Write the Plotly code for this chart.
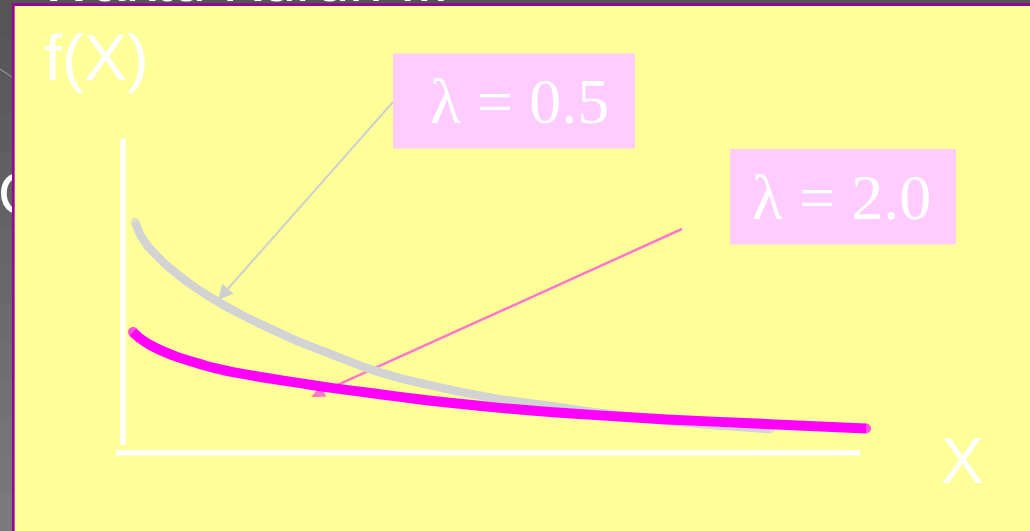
import plotly.graph_objects as go

# ---------------- data ----------------
X_LAMBDA_05 = [0.162, 0.229, 0.323, 0.431, 0.565, 0.727, 0.902, 1.104, 1.306, 1.575, 1.938, 2.382,
               2.826, 3.284, 3.728, 4.172, 4.630, 5.074, 5.747, 6.420, 7.093, 7.766, 8.708]
F_LAMBDA_05 = [0.735, 0.696, 0.661, 0.633, 0.601, 0.569, 0.537, 0.505, 0.476, 0.441, 0.399, 0.351,
               0.310, 0.268, 0.236, 0.211, 0.188, 0.169, 0.147, 0.125, 0.105, 0.089, 0.073]

X_LAMBDA_20 = [0.135, 0.229, 0.363, 0.525, 0.727, 0.969, 1.238, 1.575, 1.978, 2.382, 2.826,
               3.284, 3.728, 4.172, 4.630, 5.074, 5.747, 6.420, 7.322, 8.708, 10.0]
F_LAMBDA_20 = [0.383, 0.363, 0.342, 0.323, 0.304, 0.286, 0.268, 0.251, 0.235, 0.220, 0.204,
               0.190, 0.176, 0.163, 0.152, 0.141, 0.128, 0.117, 0.104, 0.089, 0.075]

LABELS = ["\u03bb = 0.5", "\u03bb = 2.0"]
Y_TITLE = "f(X)"
X_TITLE = "X"

# ---------------- layout helpers ----------------
W, H = 1030, 531
X_PX0, X_PX_PER_UNIT = 123.0, 74.3     # x = 0 at pixel 123
Y_PX0, Y_PX_PER_UNIT = 452.0, 313.0    # f = 0 at pixel 452

def px(x):
    return x / W

def py(y):
    return 1 - y / H

x_range = [-X_PX0 / X_PX_PER_UNIT, (W - X_PX0) / X_PX_PER_UNIT]
y_range = [-(H - Y_PX0) / Y_PX_PER_UNIT, Y_PX0 / Y_PX_PER_UNIT]

YELLOW = "#FFFF99"
PURPLE = "#990099"
PINKBOX = "#FFCCFF"
GREY_CURVE = "#D3D3D3"
MAGENTA = "#FF00FF"
PINK_ARROW = "#FF77CC"

fig = go.Figure()

def cap_sizes(n, s):
    return [s] + [0] * (n - 2) + [s]

fig.add_trace(go.Scatter(
    x=X_LAMBDA_05, y=F_LAMBDA_05, mode="lines+markers",
    line=dict(color=GREY_CURVE, width=8.5, shape="spline", smoothing=0.6),
    marker=dict(color=GREY_CURVE, size=cap_sizes(len(X_LAMBDA_05), 8.5), line=dict(width=0)),
    hoverinfo="skip", showlegend=False))
fig.add_trace(go.Scatter(
    x=X_LAMBDA_20, y=F_LAMBDA_20, mode="lines+markers",
    line=dict(color=MAGENTA, width=10, shape="spline", smoothing=0.6),
    marker=dict(color=MAGENTA, size=cap_sizes(len(X_LAMBDA_20), 10), line=dict(width=0)),
    hoverinfo="skip", showlegend=False))

# clipped background letters (behind the yellow panel)
fig.add_trace(go.Scatter(
    x=[-2], y=[199], mode="text", text=["C"], textposition="middle right",
    textfont=dict(family="Liberation Sans", size=60, color="white"),
    xaxis="x2", yaxis="y2", cliponaxis=True, hoverinfo="skip", showlegend=False))
fig.add_trace(go.Scatter(
    x=[38], y=[-14], mode="text", text=["Waktu Kurun ..."], textposition="middle right",
    textfont=dict(family="Liberation Sans", size=60, color="white"),
    xaxis="x3", yaxis="y3", cliponaxis=True, hoverinfo="skip", showlegend=False))

shapes = []
n_bands = 14
for i in range(n_bands):
    g = int(0x55 + (0x7A - 0x55) * i / (n_bands - 1))
    col = f"rgb({g},{g},{g})"
    shapes.append(dict(type="rect", xref="paper", yref="paper",
                       x0=0, x1=1, y0=py(H * (i + 1) / n_bands + 1), y1=py(H * i / n_bands),
                       fillcolor=col, line=dict(width=0), layer="below"))
shapes.append(dict(type="line", xref="paper", yref="paper",
                   x0=px(0), y0=py(69), x1=px(12), y1=py(77),
                   line=dict(color="#8C8C8C", width=1.5), layer="below"))
shapes.append(dict(type="rect", xref="paper", yref="paper",
                   x0=px(13.3), y0=py(H + 10), x1=px(W + 10), y1=py(4.7),
                   fillcolor=YELLOW, line=dict(color=PURPLE, width=2.7), layer="below"))

def arrow(tail, tip, color, width, L, Wd):
    dx, dy = tip[0] - tail[0], tip[1] - tail[1]
    n = (dx * dx + dy * dy) ** 0.5
    ux, uy = dx / n, dy / n
    bx, by = tip[0] - L * ux, tip[1] - L * uy
    nx, ny = -uy, ux
    p1 = (bx + Wd / 2 * nx, by + Wd / 2 * ny)
    p2 = (bx - Wd / 2 * nx, by - Wd / 2 * ny)
    out = [dict(type="line", xref="paper", yref="paper",
                x0=px(tail[0]), y0=py(tail[1]), x1=px(bx), y1=py(by),
                line=dict(color=color, width=width), layer="below")]
    path = (f"M {px(tip[0])} {py(tip[1])} L {px(p1[0])} {py(p1[1])} "
            f"L {px(p2[0])} {py(p2[1])} Z")
    out.append(dict(type="path", xref="paper", yref="paper", path=path,
                    fillcolor=color, line=dict(width=0), layer="below"))
    return out

shapes += arrow((393, 102), (218, 300), "#CFCFCF", 2, 15, 15)
shapes += arrow((682, 229), (311, 397), PINK_ARROW, 2.5, 14, 12)

# label boxes
shapes.append(dict(type="rect", xref="paper", yref="paper",
                   x0=px(393), x1=px(635), y0=py(148.5), y1=py(53.5),
                   fillcolor=PINKBOX, line=dict(width=0), layer="below"))
shapes.append(dict(type="rect", xref="paper", yref="paper",
                   x0=px(730), x1=px(956), y0=py(244.5), y1=py(149),
                   fillcolor=PINKBOX, line=dict(width=0), layer="below"))

# white axis lines
shapes.append(dict(type="line", xref="x", yref="y",
                   x0=0, x1=0, y0=(Y_PX0 - 445) / Y_PX_PER_UNIT, y1=(Y_PX0 - 138.5) / Y_PX_PER_UNIT,
                   line=dict(color="white", width=5.5), layer="below"))
shapes.append(dict(type="line", xref="x", yref="y",
                   x0=(116 - X_PX0) / X_PX_PER_UNIT, x1=(860 - X_PX0) / X_PX_PER_UNIT,
                   y0=(Y_PX0 - 452.8) / Y_PX_PER_UNIT, y1=(Y_PX0 - 452.8) / Y_PX_PER_UNIT,
                   line=dict(color="white", width=5.5), layer="below"))

annotations = [
    dict(xref="paper", yref="paper", x=px(42), y=py(57), xanchor="left", yanchor="middle",
         text=Y_TITLE, showarrow=False,
         font=dict(family="Liberation Sans", size=65, color="white")),
    dict(xref="paper", yref="paper", x=px(962), y=py(461), xanchor="center", yanchor="middle",
         text=X_TITLE, showarrow=False,
         font=dict(family="Liberation Sans", size=64, color="white")),
    dict(xref="paper", yref="paper", x=px(519), y=py(101), xanchor="center", yanchor="middle",
         text=LABELS[0], showarrow=False,
         font=dict(family="Liberation Serif", size=64, color="white")),
    dict(xref="paper", yref="paper", x=px(841), y=py(197), xanchor="center", yanchor="middle",
         text=LABELS[1], showarrow=False,
         font=dict(family="Liberation Serif", size=64, color="white")),
]

hidden = dict(visible=False, showgrid=False, zeroline=False, fixedrange=True)
fig.update_layout(
    width=W, height=H, margin=dict(l=0, r=0, t=0, b=0),
    paper_bgcolor="#666666", plot_bgcolor="rgba(0,0,0,0)",
    xaxis=dict(range=x_range, domain=[0, 1], **hidden),
    yaxis=dict(range=y_range, domain=[0, 1], **hidden),
    xaxis2=dict(range=[0, 12], domain=[0, px(12)], anchor="y2", **hidden),
    yaxis2=dict(range=[H, 0], domain=[0, 1], anchor="x2", **hidden),
    xaxis3=dict(range=[0, W], domain=[0, 1], anchor="y3", **hidden),
    yaxis3=dict(range=[4.5, 0], domain=[py(4.5), 1], anchor="x3", **hidden),
    shapes=shapes, annotations=annotations, showlegend=False,
)

fig.write_html("out.html", config={"displayModeBar": False},
               post_script="document.body.style.margin='0';document.body.style.overflow='hidden';")
